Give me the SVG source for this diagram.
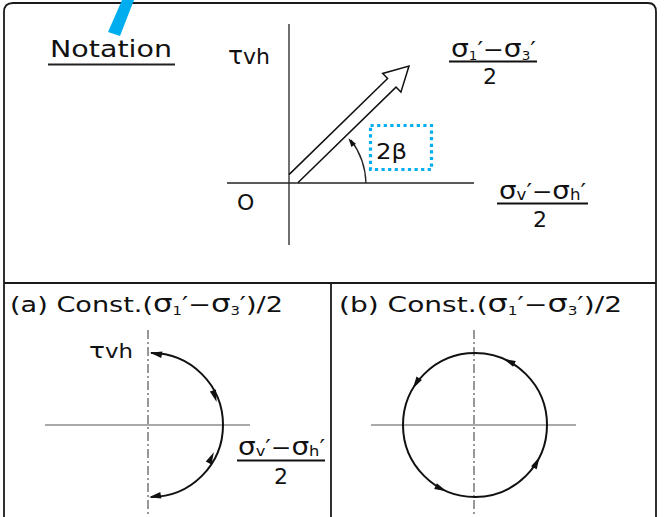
<svg xmlns="http://www.w3.org/2000/svg" width="664" height="517" viewBox="0 0 664 517">
<defs>
<style>
.frame{fill:none;stroke:#1a1a1a;stroke-width:1.8}
.axis{fill:none;stroke:#222;stroke-width:1.3}
.axisg{fill:none;stroke:#555;stroke-width:1.2}
.dash{fill:none;stroke:#444;stroke-width:1.1;stroke-dasharray:9 3 2 3}
.curve{fill:none;stroke:#111;stroke-width:2}
.t{font-family:"DejaVu Sans","Liberation Sans",sans-serif;fill:#111}
.s{font-size:25px}
.blue{fill:none;stroke:#00AEEF;stroke-width:3.2;stroke-dasharray:3.2 3.4}
</style>
<polygon id="ah" points="2,0 -10,-3.2 -10,3.2" fill="#111"/>
<polygon id="ahs" points="1,0 -8,-2.8 -8,2.8" fill="#111"/>
</defs>
<rect width="664" height="517" fill="#fff"/>

<g id="frame">
<path class="frame" d="M4,517 V12 Q4,3 13,3 H648 Q656,3 656,12 V517"/>
<line class="frame" x1="4" y1="283" x2="656" y2="283"/>
<line class="frame" x1="331" y1="283" x2="331" y2="517"/>
</g>

<polygon id="blue-slash" points="122,0 134,0 120,36 108,32" fill="#00AEEF"/>

<g id="notation">
<text class="t" x="50" y="57" font-size="23" textLength="122" lengthAdjust="spacingAndGlyphs">Notation</text>
<line x1="48" y1="64.5" x2="175" y2="64.5" stroke="#222" stroke-width="2.2"/>
</g>

<g id="top-axes">
<line class="axis" x1="289" y1="24" x2="289" y2="245"/>
<line class="axis" x1="227" y1="183" x2="474" y2="183"/>
<text class="t" x="228" y="64" font-size="22" textLength="42" lengthAdjust="spacingAndGlyphs"><tspan class="s">τ</tspan>vh</text>
<text class="t" x="237" y="210" font-size="22">O</text>
</g>

<g id="vector">
<path d="M289,174.6 L387.6,78.5 L382.7,73.5 L409,66 L400.9,92.1 L396,87.1 L297.6,183" fill="#fff" stroke="#111" stroke-width="1.5" stroke-linejoin="miter"/>
</g>

<g id="angle">
<path class="axis" d="M366,183 A77,77 0 0 0 351,140"/>
<use href="#ahs" transform="translate(349,139) rotate(234)"/>
<text class="t" x="376" y="159" font-size="21" textLength="31" lengthAdjust="spacingAndGlyphs">2β</text>
<rect class="blue" x="370.5" y="125.5" width="61" height="44"/>
</g>

<g id="frac-top">
<text class="t" x="451" y="57" font-size="22" textLength="85" lengthAdjust="spacingAndGlyphs"><tspan class="s">σ</tspan><tspan font-size="12" dy="3">1</tspan><tspan dy="-3">′−</tspan><tspan class="s">σ</tspan><tspan font-size="12" dy="3">3</tspan><tspan dy="-3">′</tspan></text>
<line x1="449" y1="61.5" x2="537" y2="61.5" stroke="#111" stroke-width="1.8"/>
<text class="t" x="490" y="84" font-size="22" text-anchor="middle">2</text>
</g>

<g id="frac-right">
<text class="t" x="499" y="199" font-size="22" textLength="87" lengthAdjust="spacingAndGlyphs"><tspan class="s">σ</tspan><tspan font-size="15" dy="1">v</tspan><tspan dy="-1">′−</tspan><tspan class="s">σ</tspan><tspan font-size="15" dy="1">h</tspan><tspan dy="-1">′</tspan></text>
<line x1="497" y1="203.5" x2="588" y2="203.5" stroke="#111" stroke-width="1.8"/>
<text class="t" x="540" y="227" font-size="22" text-anchor="middle">2</text>
</g>

<g id="panel-a">
<text class="t" x="10" y="312" font-size="22" textLength="273" lengthAdjust="spacingAndGlyphs">(a) Const.(<tspan class="s">σ</tspan><tspan font-size="12" dy="3">1</tspan><tspan dy="-3">′−</tspan><tspan class="s">σ</tspan><tspan font-size="12" dy="3">3</tspan><tspan dy="-3">′)/2</tspan></text>
<line class="dash" x1="148" y1="330" x2="148" y2="517"/>
<line class="axisg" x1="45" y1="425" x2="250" y2="425"/>
<text class="t" x="89" y="358" font-size="19" textLength="44" lengthAdjust="spacingAndGlyphs"><tspan font-size="22">τ</tspan>vh</text>
<path class="curve" d="M151,353 A72,72 0 0 1 151,497"/>
<use href="#ah" transform="translate(152,353) rotate(190)"/>
<use href="#ah" transform="translate(216,400) rotate(72)"/>
<use href="#ah" transform="translate(213,454) rotate(-64)"/>
<use href="#ah" transform="translate(151,497) rotate(170)"/>
<text class="t" x="238" y="455" font-size="21" textLength="87" lengthAdjust="spacingAndGlyphs"><tspan font-size="24">σ</tspan><tspan font-size="14" dy="1">v</tspan><tspan dy="-1">′−</tspan><tspan font-size="24">σ</tspan><tspan font-size="14" dy="1">h</tspan><tspan dy="-1">′</tspan></text>
<line x1="237" y1="460.5" x2="325" y2="460.5" stroke="#111" stroke-width="1.8"/>
<text class="t" x="281" y="484" font-size="22" text-anchor="middle">2</text>
</g>

<g id="panel-b">
<text class="t" x="339" y="312" font-size="22" textLength="283" lengthAdjust="spacingAndGlyphs">(b) Const.(<tspan class="s">σ</tspan><tspan font-size="12" dy="3">1</tspan><tspan dy="-3">′−</tspan><tspan class="s">σ</tspan><tspan font-size="12" dy="3">3</tspan><tspan dy="-3">′)/2</tspan></text>
<line class="dash" x1="474" y1="330" x2="474" y2="517"/>
<line class="axisg" x1="371" y1="425" x2="576" y2="425"/>
<circle class="curve" cx="475" cy="425" r="72"/>
<use href="#ah" transform="translate(505.4,359.7) rotate(205)"/>
<use href="#ah" transform="translate(413.9,386.8) rotate(122)"/>
<use href="#ah" transform="translate(444.6,490.3) rotate(25)"/>
<use href="#ah" transform="translate(538.6,458.8) rotate(-62)"/>
</g>
</svg>
